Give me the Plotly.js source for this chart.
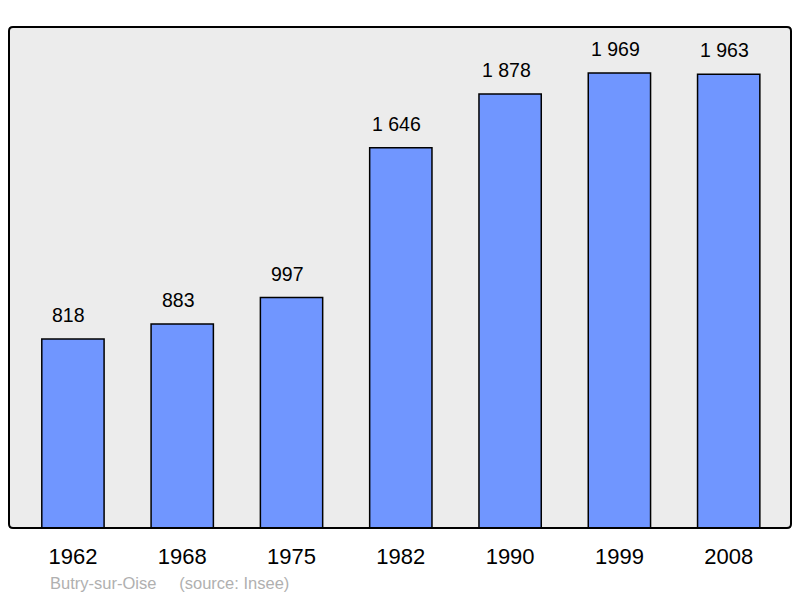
<!DOCTYPE html>
<html><head><meta charset="utf-8">
<script src="https://cdn.plot.ly/plotly-3.0.1.min.js"></script>
<style>body{margin:0;background:#fff}#c{width:800px;height:598px}</style>
</head><body><div id="c"></div>
<script>
const years = ['1962','1968','1975','1982','1990','1999','2008'];
const population = [818, 883, 997, 1646, 1878, 1969, 1963];
const sourceText = 'Butry-sur-Oise &nbsp;&nbsp;&nbsp; (source: Insee)';

function fmt(v){ return String(v).replace(/\B(?=(\d{3})+(?!\d))/g, ' '); }

const trace = {
  type: 'bar', x: years, y: population,
  width: 0.57,
  marker: {color: '#7096ff', line: {color: '#000', width: 1.5}},
  hoverinfo: 'none'
};
const annotations = years.map((y, i) => ({
  x: i, y: population[i], xref: 'x', yref: 'y', text: fmt(population[i]),
  showarrow: false, yanchor: 'bottom', yshift: 11, xshift: -4,
  font: {family: 'Liberation Sans, Arial, sans-serif', size: 19.5, color: '#000'}
}));
annotations.push({
  xref: 'paper', yref: 'paper', x: 0.05, y: -0.11, xanchor: 'left', yanchor: 'middle',
  text: sourceText, showarrow: false,
  font: {family: 'Liberation Sans, Arial, sans-serif', size: 16.5, color: '#b0b0b0'}
});
const rx = 4/782, ry = 4/501;
const border = `M ${rx} 0 L ${1-rx} 0 Q 1 0 1 ${ry} L 1 ${1-ry} Q 1 1 ${1-rx} 1 L ${rx} 1 Q 0 1 0 ${1-ry} L 0 ${ry} Q 0 0 ${rx} 0 Z`;
const layout = {
  width: 800, height: 598,
  margin: {l: 9, r: 9, t: 27, b: 70},
  paper_bgcolor: '#fff', plot_bgcolor: '#ececec',
  showlegend: false,
  xaxis: {type: 'category', range: [-0.585, 6.57], showgrid: false, zeroline: false,
    ticks: '', tickfont: {family: 'Liberation Sans, Arial, sans-serif', size: 22, color: '#000'},
    ticklabelstandoff: 13, fixedrange: true},
  yaxis: {range: [0, 2168], showgrid: false, zeroline: false, showticklabels: false, ticks: '', fixedrange: true},
  shapes: [{type: 'path', xref: 'paper', yref: 'paper', path: border,
    line: {color: '#000', width: 2}, layer: 'above'}],
  annotations: annotations
};
Plotly.newPlot('c', [trace], layout, {displayModeBar: false, staticPlot: true});
</script></body></html>
